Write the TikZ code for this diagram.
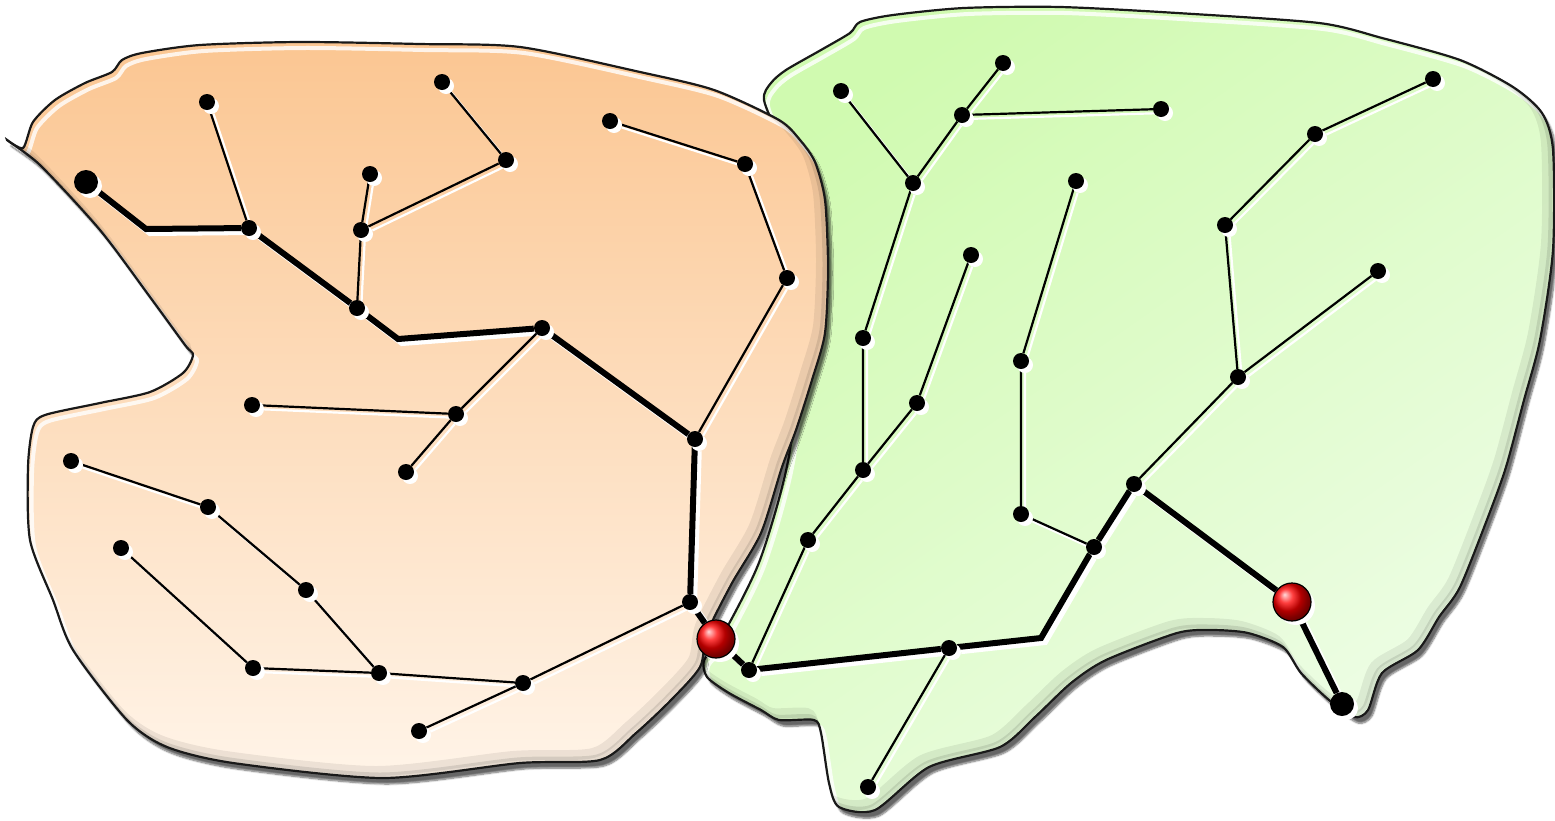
\documentclass[tikz,border=0pt]{standalone}
\usetikzlibrary{shadows.blur}
\pgfdeclarelayer{bg}\pgfdeclarelayer{shd}\pgfdeclarelayer{edg}
\pgfsetlayers{bg,shd,edg,main}
\definecolor{ortop}{RGB}{251,198,146}
\definecolor{orbot}{RGB}{255,244,232}
\definecolor{grtop}{RGB}{208,250,176}
\definecolor{grbot}{RGB}{238,253,230}
\newcommand\orpath{plot[smooth cycle, tension=0.45] coordinates {(7,140) (23,148) (33,122) (55,100) (85,83) (112,72) (122,60) (142,53) (200,45) (300,42) (420,44) (520,47) (640,72) (714,90) (779,120) (800,140) (815,162) (825,200) (828,267) (825,333) (812,380) (796,430) (782,467) (761,533) (732,583) (707,633) (700,667) (671,700) (636,733) (600,760) (520,763) (383,778) (233,763) (167,747) (127,720) (73,650) (53,600) (30,540) (28,467) (33,427) (45,415) (100,403) (150,392) (183,373) (193,355) (185,345) (150,297) (100,230) (40,165)}}
\newcommand\grpath{plot[smooth cycle, tension=0.45] coordinates {(764,100) (771,83) (786,70) (821,50) (850,33) (860,22) (893,15) (964,8) (1060,7) (1177,13) (1319,23) (1382,38) (1460,60) (1513,87) (1542,113) (1553,150) (1553,250) (1540,340) (1524,400) (1506,467) (1488,517) (1460,587) (1439,617) (1418,650) (1382,673) (1368,710) (1354,717) (1329,700) (1301,673) (1283,647) (1248,633) (1212,630) (1177,633) (1106,660) (1071,683) (1035,717) (1000,747) (929,767) (875,810) (839,807) (829,783) (821,733) (814,720) (779,720) (761,710) (729,693) (707,677) (704,660) (720,640) (760,560) (790,450) (800,300) (780,150)}}
\tikzset{
  x=1pt, y=-1pt,
  dot/.style={circle, fill=black, inner sep=0pt, minimum size=16pt,
    preaction={fill=white, transform canvas={shift={(4pt,-4pt)}}}},
  bigdot/.style={dot, minimum size=24pt},
  redball/.style={circle, ball color=red, draw=black, line width=1.2pt, inner sep=0pt, minimum size=38pt,
    preaction={fill=white, transform canvas={shift={(4pt,-4pt)}}}},
  link/.style={line width=2.2pt},
  trunk/.style={line width=6pt},
  regionline/.style={draw=black!90, line width=2.2pt},
}
\newcommand\linkedges[1]{\draw[link,#1] (B)--(C) (D)--(E) (E)--(F) (E)--(G) (G)--(H) (I)--(N) (N)--(O) (N)--(P) (J)--(K) (K)--(L) (L)--(M) (Q)--(T) (T)--(U) (T)--(V) (V)--(W) (W)--(X) (V)--(Y) (Y)--(Z) (Z)--(AA) (S)--(a) (a)--(b) (b)--(c) (c)--(d) (b)--(e) (e)--(f) (f)--(g) (f)--(h) (h)--(i) (h)--(j) (k)--(l) (m)--(n) (n)--(o) (o)--(p) (q)--(r) (r)--(s) (r)--(t) (t)--(u) (u)--(v);}
\newcommand\trunkedges[1]{\draw[trunk,#1] (A)--(a1)--(B)--(D)--(a2)--(I)--(J)--(Q)--(R1)--(S)--(k)--(bb)--(m)--(q)--(R2)--(zz);}
\begin{document}
\begin{tikzpicture}
\useasboundingbox (0,0) rectangle (1555,820);
\begin{pgfonlayer}{bg}
  % green region
  \path[blur shadow={shadow xshift=4pt, shadow yshift=-6pt, shadow blur steps=8, shadow opacity=60}, top color=grtop, bottom color=grbot, shading angle=35] \grpath;
  \begin{scope}
    \clip \grpath;
    \draw[white, line width=4pt, opacity=0.8, transform canvas={shift={(4pt,-6pt)}}] \grpath;
    \draw[black, line width=10pt, opacity=0.07, transform canvas={shift={(-7pt,7pt)}}] \grpath;
    \draw[black, line width=5pt, opacity=0.1, transform canvas={shift={(-3pt,3pt)}}] \grpath;
  \end{scope}
  \draw[regionline] \grpath;
  % orange region
  \path[blur shadow={shadow xshift=4pt, shadow yshift=-6pt, shadow blur steps=8, shadow opacity=60}, top color=ortop, bottom color=orbot] \orpath;
  \begin{scope}
    \clip \orpath;
    \draw[white, line width=4pt, opacity=0.8, transform canvas={shift={(4pt,-6pt)}}] \orpath;
    \draw[black, line width=10pt, opacity=0.07, transform canvas={shift={(-7pt,7pt)}}] \orpath;
    \draw[black, line width=5pt, opacity=0.1, transform canvas={shift={(-3pt,3pt)}}] \orpath;
  \end{scope}
  \draw[regionline] \orpath;
\end{pgfonlayer}
% left tree
\node[bigdot] (A) at (86,182) {};
\coordinate (a1) at (146,229);
\node[dot] (B) at (249,228) {};
\node[dot] (C) at (207,102) {};
\node[dot] (D) at (357,308) {};
\node[dot] (E) at (361,230) {};
\node[dot] (F) at (370,174) {};
\node[dot] (G) at (506,160) {};
\node[dot] (H) at (442,82) {};
\coordinate (a2) at (398,339);
\node[dot] (I) at (542,328) {};
\node[dot] (J) at (695,439) {};
\node[dot] (K) at (787,278) {};
\node[dot] (L) at (745,164) {};
\node[dot] (M) at (610,121) {};
\node[dot] (N) at (456,414) {};
\node[dot] (O) at (252,405) {};
\node[dot] (P) at (406,472) {};
\node[dot] (Q) at (690,602) {};
\node[redball] (R1) at (716,639) {};
\node[dot] (S) at (749,670) {};
\node[dot] (T) at (523,683) {};
\node[dot] (U) at (419,731) {};
\node[dot] (V) at (379,673) {};
\node[dot] (W) at (253,668) {};
\node[dot] (X) at (121,548) {};
\node[dot] (Y) at (306,590) {};
\node[dot] (Z) at (208,507) {};
\node[dot] (AA) at (71,461) {};
% right tree
\node[dot] (a) at (808,540) {};
\node[dot] (b) at (863,470) {};
\node[dot] (c) at (917,403) {};
\node[dot] (d) at (971,255) {};
\node[dot] (e) at (863,338) {};
\node[dot] (f) at (913,183) {};
\node[dot] (g) at (841,91) {};
\node[dot] (h) at (962,115) {};
\node[dot] (i) at (1003,63) {};
\node[dot] (j) at (1161,109) {};
\node[dot] (k) at (949,648) {};
\node[dot] (l) at (868,787) {};
\coordinate (bb) at (1041,638);
\node[dot] (m) at (1094,547) {};
\node[dot] (n) at (1021,514) {};
\node[dot] (o) at (1021,361) {};
\node[dot] (p) at (1076,181) {};
\node[dot] (q) at (1134,484) {};
\node[dot] (r) at (1238,377) {};
\node[dot] (s) at (1378,271) {};
\node[dot] (t) at (1225,225) {};
\node[dot] (u) at (1315,134) {};
\node[dot] (v) at (1433,79) {};
\node[redball] (R2) at (1292,602) {};
\node[bigdot] (zz) at (1342,704) {};
\begin{pgfonlayer}{shd}
  \begin{scope}[transform canvas={shift={(4pt,-4pt)}}]
    \linkedges{white}
    \trunkedges{white}
  \end{scope}
\end{pgfonlayer}
\begin{pgfonlayer}{edg}
  \linkedges{black}
  \trunkedges{black}
\end{pgfonlayer}
\end{tikzpicture}
\end{document}
